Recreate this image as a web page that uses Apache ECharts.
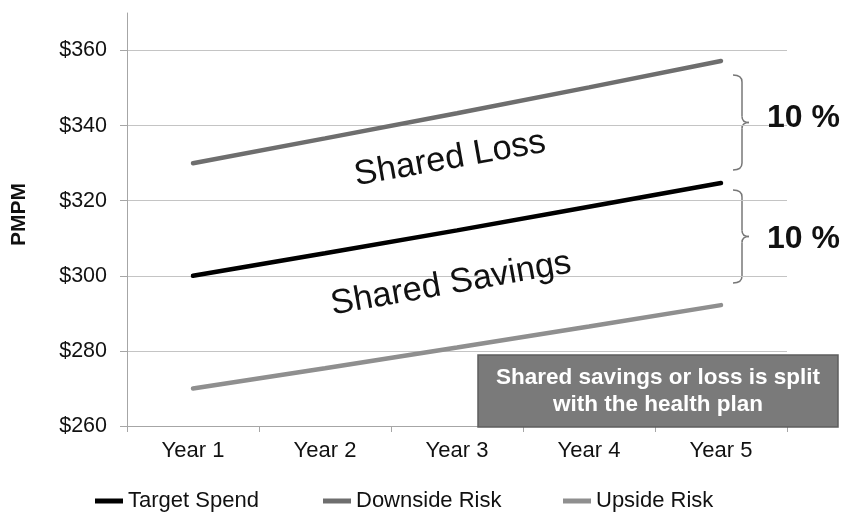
<!DOCTYPE html>
<html>
<head>
<meta charset="utf-8">
<script src="https://cdn.jsdelivr.net/npm/echarts@6/dist/echarts.min.js"></script>
<style>
  html, body { margin: 0; padding: 0; background: #fff; }
  #main { width: 850px; height: 512px; }
</style>
</head>
<body>
<div id="main"></div>
<script>
// 数据
var years = ['Year 1', 'Year 2', 'Year 3', 'Year 4', 'Year 5'];
var targetSpend = [300, 306, 312.1, 318.4, 324.7];
var downsideRisk = [330, 336.6, 343.3, 350.2, 357.2];
var upsideRisk = [270, 275.4, 280.9, 286.5, 292.2];
var seriesNames = ['Target Spend', 'Downside Risk', 'Upside Risk'];
var seriesColors = ['#000000', '#6e6e6e', '#8f8f8f'];

var font = 'Liberation Sans, Arial, sans-serif';
var gridColor = '#c4c4c4';

var myChart = echarts.init(document.getElementById('main'));

function legendFor(i, left) {
    return {
        data: [seriesNames[i]],
        left: left,
        top: 490,
        padding: 0,
        icon: 'rect',
        itemWidth: 28,
        itemHeight: 5,
        textStyle: { fontFamily: font, fontSize: 22, color: '#111' }
    };
}

// 花括号
function brace(y1, y2) {
    var xm = 742, xl = 733, xr = 749, ym = (y1 + y2) / 2;
    var st = { stroke: '#777', lineWidth: 1.5, fill: null };
    function curve(x1, yy1, x2, yy2, cx, cy) {
        return { type: 'bezierCurve', shape: { x1: x1, y1: yy1, x2: x2, y2: yy2, cpx1: cx, cpy1: cy }, style: st };
    }
    function seg(x1, yy1, x2, yy2) {
        return { type: 'line', shape: { x1: x1, y1: yy1, x2: x2, y2: yy2 }, style: st };
    }
    return {
        type: 'group',
        z: 10,
        children: [
            curve(xl, y1, xm, y1 + 7, xm, y1),
            seg(xm, y1 + 7, xm, ym - 6),
            curve(xm, ym - 6, xr, ym, xm, ym),
            curve(xr, ym, xm, ym + 6, xm, ym),
            seg(xm, ym + 6, xm, y2 - 7),
            curve(xm, y2 - 7, xl, y2, xm, y2)
        ]
    };
}

var option = {
    animation: false,
    grid: { left: 127, right: 63, top: 13, bottom: 86, outerBoundsMode: 'none' },
    legend: [legendFor(0, 95), legendFor(1, 323), legendFor(2, 563)],
    xAxis: {
        type: 'category',
        data: years,
        boundaryGap: true,
        axisLine: { lineStyle: { color: '#a6a6a6', width: 1 } },
        axisTick: { show: true, length: 6, lineStyle: { color: '#a6a6a6' } },
        axisLabel: { fontFamily: font, fontSize: 22, color: '#111', margin: 14 }
    },
    yAxis: {
        type: 'value',
        min: 260,
        max: 370,
        interval: 20,
        name: 'PMPM',
        nameLocation: 'middle',
        nameGap: 97,
        nameTextStyle: { fontFamily: font, fontSize: 21, fontWeight: 'bold', color: '#111', padding: [0, 0, 0, 10] },
        axisLine: { show: true, lineStyle: { color: '#a6a6a6', width: 1 } },
        axisTick: { show: true, length: 7, lineStyle: { color: '#a6a6a6' } },
        axisLabel: {
            fontFamily: font, fontSize: 21.5, color: '#111', margin: 20,
            showMaxLabel: false,
            formatter: function (v) { return '$' + v; }
        },
        splitLine: {
            show: true,
            lineStyle: { color: [gridColor, gridColor, gridColor, gridColor, gridColor, gridColor, 'rgba(0,0,0,0)'], width: 1 }
        }
    },
    series: [
        { name: seriesNames[0], type: 'line', data: targetSpend, z: 5 },
        { name: seriesNames[1], type: 'line', data: downsideRisk, z: 4 },
        { name: seriesNames[2], type: 'line', data: upsideRisk, z: 4 }
    ].map(function (s, i) {
        s.symbol = 'none';
        s.smooth = false;
        s.color = seriesColors[i];
        s.lineStyle = { width: 4.5, color: seriesColors[i], cap: 'round' };
        return s;
    }),
    graphic: [
        {
            type: 'text', x: 450, y: 159, rotation: 0.175, z: 10,
            style: { text: 'Shared Loss', fontFamily: font, fontSize: 34.5, fill: '#111', align: 'center', verticalAlign: 'middle' }
        },
        {
            type: 'text', x: 451, y: 284, rotation: 0.175, z: 10,
            style: { text: 'Shared Savings', fontFamily: font, fontSize: 34.5, fill: '#111', align: 'center', verticalAlign: 'middle' }
        },
        brace(75, 170),
        brace(190, 283),
        {
            type: 'text', x: 767, y: 118, z: 10,
            style: { text: '10 %', fontFamily: font, fontSize: 32, fontWeight: 'bold', fill: '#111', align: 'left', verticalAlign: 'middle' }
        },
        {
            type: 'text', x: 767, y: 239, z: 10,
            style: { text: '10 %', fontFamily: font, fontSize: 32, fontWeight: 'bold', fill: '#111', align: 'left', verticalAlign: 'middle' }
        },
        {
            type: 'rect', z: 10,
            shape: { x: 478, y: 355, width: 360, height: 72 },
            style: { fill: '#7a7a7a', stroke: '#5e5e5e', lineWidth: 1.5 }
        },
        {
            type: 'text', x: 658, y: 391, z: 11,
            style: {
                text: 'Shared savings or loss is split\nwith the health plan',
                fontFamily: font, fontSize: 22.5, fontWeight: 'bold', fill: '#fff',
                align: 'center', verticalAlign: 'middle', lineHeight: 27
            }
        }
    ]
};

myChart.setOption(option);
</script>
</body>
</html>
